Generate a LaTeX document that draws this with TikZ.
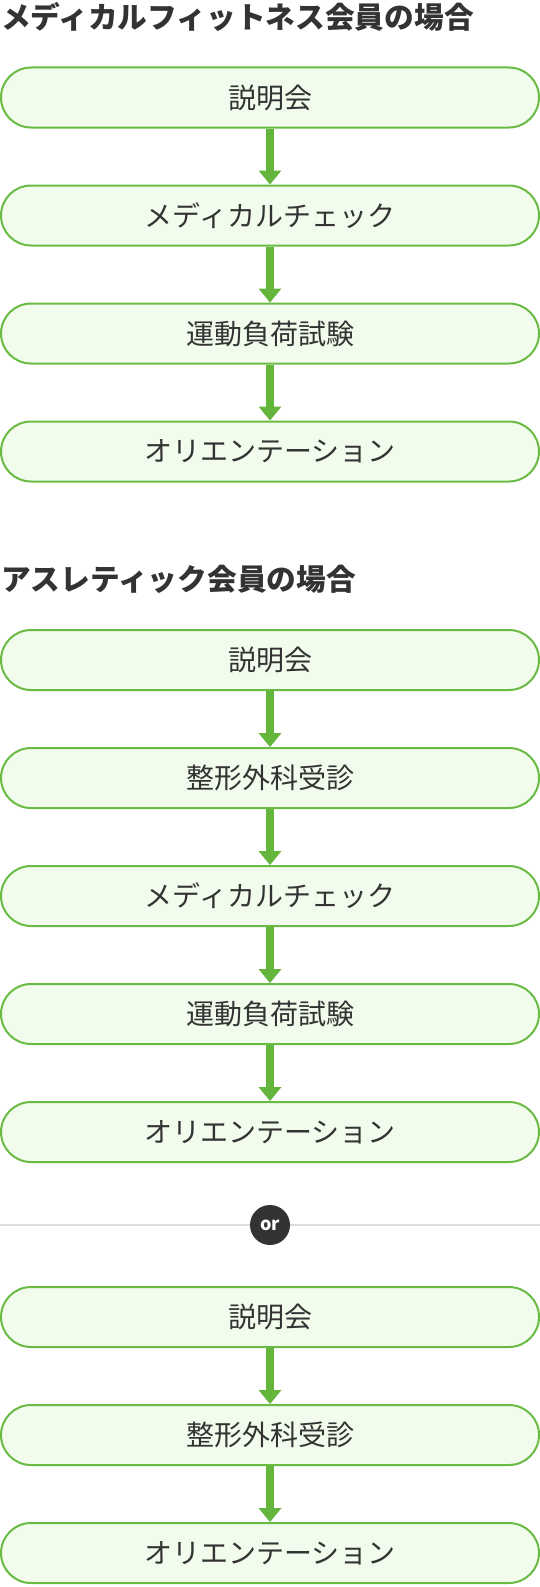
\documentclass[tikz,border=0pt]{standalone}
\usepackage{fontspec}
\usetikzlibrary{arrows.meta}
\newfontfamily\jp{Noto Sans CJK JP}
\definecolor{boxgreen}{HTML}{6ABB44}
\definecolor{arrowgreen}{HTML}{63B53B}
\definecolor{boxfill}{HTML}{F1FCEC}
\definecolor{ink}{HTML}{333333}
\definecolor{rule}{HTML}{DDDDDD}
\begin{document}
\begin{tikzpicture}[x=1pt,y=-1pt,
  stepbox/.style={draw=boxgreen, line width=2pt, fill=boxfill,
    rounded corners=30pt, minimum width=538pt, minimum height=60pt,
    inner sep=0pt, text=ink, font=\jp\fontsize{28}{32}\selectfont},
  heading/.style={anchor=west, inner sep=0pt, text=ink,
    font=\jp\bfseries\fontsize{29.7}{34}\selectfont},
  flow/.style={draw=arrowgreen, line width=8pt,
    -{Triangle[width=23pt,length=14pt,line width=0pt]}},
  separator/.style={draw=rule, line width=2pt},
  orbadge/.style={circle, fill=ink, minimum size=40pt, inner sep=0pt,
    text=white, font=\jp\bfseries\fontsize{18}{20}\selectfont}
]
\useasboundingbox (0,0) rectangle (540,1587);

% Medical fitness members
\node[heading] (t1) at (1,17) {メディカルフィットネス会員の場合};
\node[stepbox] (m1) at (270,97.5) {説明会};
\node[stepbox] (m2) at (270,215.5) {メディカルチェック};
\node[stepbox] (m3) at (270,333.5) {運動負荷試験};
\node[stepbox] (m4) at (270,451.5) {オリエンテーション};
\draw[flow] (m1.south) -- (m2.north);
\draw[flow] (m2.south) -- (m3.north);
\draw[flow] (m3.south) -- (m4.north);

% Athletic members
\node[heading] (t2) at (1,579.5) {アスレティック会員の場合};
\node[stepbox] (a1) at (270,660) {説明会};
\node[stepbox] (a2) at (270,778) {整形外科受診};
\node[stepbox] (a3) at (270,896) {メディカルチェック};
\node[stepbox] (a4) at (270,1014) {運動負荷試験};
\node[stepbox] (a5) at (270,1132) {オリエンテーション};
\draw[flow] (a1.south) -- (a2.north);
\draw[flow] (a2.south) -- (a3.north);
\draw[flow] (a3.south) -- (a4.north);
\draw[flow] (a4.south) -- (a5.north);

% "or" divider
\coordinate (sepL) at (0,1225);
\coordinate (sepR) at (540,1225);
\draw[separator] (sepL) -- (sepR);
\node[orbadge] (or) at (270,1225) {or};

% Short course
\node[stepbox] (b1) at (270,1317) {説明会};
\node[stepbox] (b2) at (270,1435) {整形外科受診};
\node[stepbox] (b3) at (270,1553) {オリエンテーション};
\draw[flow] (b1.south) -- (b2.north);
\draw[flow] (b2.south) -- (b3.north);
\end{tikzpicture}
\end{document}
